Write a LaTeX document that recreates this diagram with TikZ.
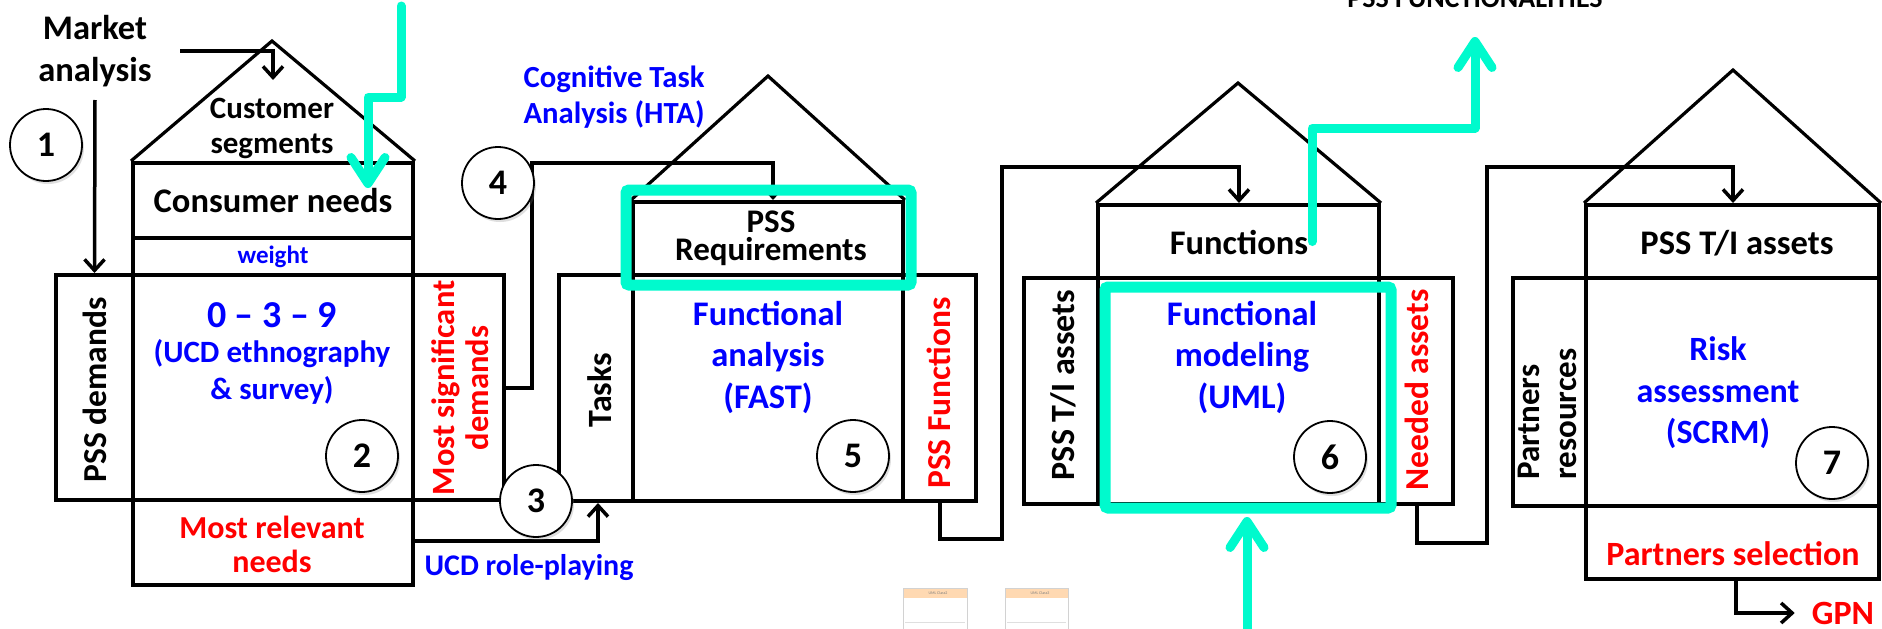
\documentclass[tikz,border=0pt]{standalone}
\usepackage{fontspec}
\setmainfont{Carlito}
\usetikzlibrary{arrows.meta,shadows,fit,calc}
\definecolor{tealmark}{RGB}{0,250,205}
\definecolor{pblue}{RGB}{0,0,255}
\definecolor{pred}{RGB}{255,0,0}
\newcommand\fz[2]{\fontsize{#1}{#2}\selectfont\bfseries}

\begin{document}
\begin{tikzpicture}[x=1pt,y=-1pt,
  box/.style={draw, line width=4pt, inner sep=0pt, rectangle},
  roof/.style={line width=3.2pt, line join=miter},
  txt/.style={inner sep=0pt, align=center, font=\fz{34.5}{40}},
  conn/.style={line width=3.5pt, -{Straight Barb[length=11pt,width=20pt]}},
  tealconn/.style={color=tealmark, line width=9pt, line cap=round, line join=round,
                   -{Straight Barb[length=26pt,width=34pt,round]}},
  tealbox/.style={draw=tealmark, line width=11pt, rounded corners=3pt},
  num/.style={circle, draw, line width=1.8pt, fill=white, minimum size=72pt, inner sep=0pt,
              font=\fz{36}{36}, drop shadow={shadow xshift=2pt, shadow yshift=-3pt, opacity=0.25}},
  thumb/.style={draw=gray!35, line width=0.7pt, inner sep=0pt},
]
\useasboundingbox (0,0) rectangle (1882,629);
\fill[white] (0,0) rectangle (1882,629);

% ---------- house 1 : consumer needs ----------
\node[box, fit={(133,163) (413,238)}] (cn) {};
\node[box, fit={(133,238) (413,275)}] (wt) {};
\node[box, fit={(133,275) (413,500)}] (m2) {};
\node[box, fit={(56,275) (133,500)}] (dem) {};
\node[box, fit={(413,275) (504,500)}] (sig) {};
\node[box, fit={(133,500) (413,585)}] (rel) {};
\coordinate (apex1) at (272,41);
\draw[roof] (cn.north west) -- (apex1) -- (cn.north east);

\node[txt, font=\fz{34.5}{42}] (market) at (95,51) {Market\\analysis};
\node[txt, font=\fz{31}{35}] (seg) at (272,128) {Customer\\segments};
\node[txt] at (cn.center) {Consumer needs};
\node[txt, text=pblue, font=\fz{25}{30}] at (wt.center) {weight};
\node[txt, text=pblue, font=\fz{38}{40}] (zer) at (272,315) {0 – 3 – 9};
\node[txt, text=pblue, font=\fz{31}{37}] (ucd) at (272,372) {(UCD ethnography\\\& survey)};
\node[txt, rotate=90, font=\fz{33.5}{40}] at (95,390) {PSS demands};
\node[txt, rotate=90, text=pred, font=\fz{32.5}{34}] at (460,388) {Most significant\\demands};
\node[txt, text=pred, font=\fz{32}{34}] at (272,544) {Most relevant\\needs};
\node[txt, text=pblue, font=\fz{30}{34}] (role) at (529,568) {UCD role-playing};

% ---------- house 2 : functional analysis ----------
\node[box, fit={(633,202) (903,275)}] (req) {};
\node[box, fit={(559,275) (633,501)}] (tasks) {};
\node[box, fit={(633,275) (903,501)}] (m5) {};
\node[box, fit={(903,275) (976,501)}] (fun) {};
\coordinate (apex2) at (768,76);
\draw[roof] (req.north west) -- (apex2) -- (req.north east);

\node[txt, text=pblue, font=\fz{30.7}{36}] (cta) at (614,97) {Cognitive Task\\Analysis (HTA)};
\node[txt, font=\fz{33}{28}] at (771,238) {PSS\\Requirements};
\node[txt, text=pblue, font=\fz{34.5}{41.5}] at (768,357) {Functional\\analysis\\(FAST)};
\node[txt, rotate=90, font=\fz{34}{36}] at (600,390) {Tasks};
\node[txt, rotate=90, text=pred, font=\fz{33.5}{36}] at (939,393) {PSS Functions};

% ---------- house 3 : functional modeling ----------
\node[box, fit={(1098,205) (1379,278)}] (fns) {};
\node[box, fit={(1024,278) (1098,504)}] (assets) {};
\node[box, fit={(1098,278) (1379,504)}] (m6) {};
\node[box, fit={(1379,278) (1453,504)}] (need) {};
\coordinate (apex3) at (1238,83);
\draw[roof] (fns.north west) -- (apex3) -- (fns.north east);

\node[txt] at (1239,242) {Functions};
\node[txt, text=pblue, font=\fz{34.5}{41.5}] at (1242,357) {Functional\\modeling\\(UML)};
\node[txt, rotate=90, font=\fz{34}{36}] at (1063,385) {PSS T/I assets};
\node[txt, rotate=90, text=pred, font=\fz{33.5}{36}] at (1417,390) {Needed assets};
\node[txt, anchor=base, font=\fz{28}{30}] (pssf) at (1475,8) {PSS FUNCTIONALITIES};

% ---------- house 4 : risk assessment ----------
\node[box, fit={(1586,205) (1879,278)}] (tia) {};
\node[box, fit={(1513,278) (1586,506)}] (pres) {};
\node[box, fit={(1586,278) (1879,506)}] (m7) {};
\node[box, fit={(1586,506) (1879,579)}] (psel) {};
\coordinate (apex4) at (1733,70);
\draw[roof] (tia.north west) -- (apex4) -- (tia.north east);

\node[txt] at (1737,243) {PSS T/I assets};
\node[txt, rotate=90, align=left, font=\fz{33}{37}] at (1547,414) {Partners\\resources};
\node[txt, text=pblue, font=\fz{34}{41.5}] at (1718,393) {Risk\\assessment\\(SCRM)};
\node[txt, text=pred, font=\fz{34}{40}] at (1733,554) {Partners selection};
\node[txt, text=pred, font=\fz{34}{40}] (gpn) at (1843,613) {GPN};

% ---------- black connectors ----------
\draw[conn] (market.south |- 0,100) -- (dem.north);
\coordinate (m1) at (180,51);
\draw[conn] (m1) -- (273,51) -- (273,80);
\draw[conn] (sig.east |- 0,388) -- (532,388) -- (532,163) -- (773,163) -- (req.north -| 773,0);
\draw[conn] (rel.east |- 0,541) -- (598,541) -- (tasks.south -| 598,0);
\draw[conn] (fun.south -| 940,0) -- (940,539) -- (1002,539) -- (1002,167) -- (1239,167) -- (fns.north -| 1239,0);
\draw[conn] (need.south -| 1417,0) -- (1417,543) -- (1487,543) -- (1487,167) -- (1733,167) -- (tia.north -| 1733,0);
\draw[conn, shorten >=17pt] (psel.south -| 1736,0) -- (1736,613) -- (gpn.west);

% ---------- step numbers ----------
\node[num] (n1) at (46,145) {1};
\node[num] (n2) at (362,456) {2};
\node[num] (n3) at (536,501) {3};
\node[num] (n4) at (498,183) {4};
\node[num] (n5) at (853,456) {5};
\node[num] (n6) at (1330,457) {6};
\node[num] (n7) at (1832,463) {7};

% ---------- highlights ----------
\draw[tealbox] (626,190) rectangle (911,285);
\draw[tealbox] (1105,287) rectangle (1391,508);
\coordinate (t1) at (401,6);
\draw[tealconn] (t1) -- (401,97) -- (368,97) -- (368,188);
\coordinate (t2) at (1247,640);
\draw[tealconn] (t2) -- (1247,517);
\draw[tealconn] (fns.center -| 1312,0) -- (1312,128) -- (1475,128) -- (1475,37);

% ---------- small UML class thumbnails ----------
\node[thumb, fit={(903,588) (967,640)}] (uml2) {};
\fill[orange!30] (903.5,588.5) rectangle (966.5,598);
\node[font=\fontsize{4}{4}\selectfont, text=gray] at (938,593) {UML Class2};
\draw[gray!25] (905,622) -- (965,622);
\node[thumb, fit={(1005,588) (1068,640)}] (uml3) {};
\fill[orange!30] (1005.5,588.5) rectangle (1067.5,598);
\node[font=\fontsize{4}{4}\selectfont, text=gray] at (1040,593) {UML Class3};
\draw[gray!25] (1007,622) -- (1066,622);
\end{tikzpicture}
\end{document}
